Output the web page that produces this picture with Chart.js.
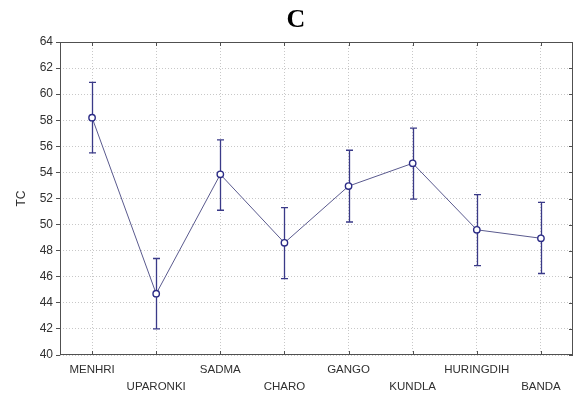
<!DOCTYPE html>
<html>
<head>
<meta charset="utf-8">
<script src="https://cdn.jsdelivr.net/npm/chart.js@4/dist/chart.umd.min.js"></script>
<style>
  html, body { margin: 0; padding: 0; background: #fff; }
  #wrap { width: 581px; height: 394px; }
</style>
</head>
<body>
<div id="wrap"><canvas id="c" width="581" height="394"></canvas></div>
<script>
const categories = ['MENHRI', 'UPARONKI', 'SADMA', 'CHARO', 'GANGO', 'KUNDLA', 'HURINGDIH', 'BANDA'];
const means = [58.2, 44.7, 53.85, 48.6, 52.95, 54.7, 49.6, 48.95];
const lower = [55.5, 42.0, 51.1, 45.85, 50.2, 51.95, 46.85, 46.25];
const upper = [60.9, 47.4, 56.5, 51.3, 55.7, 57.4, 52.3, 51.7];
const yTicks = [40, 42, 44, 46, 48, 50, 52, 54, 56, 58, 60, 62, 64];
const titleText = 'C';
const yTitle = 'TC';

const AXIS = '#505050';
const GRID = '#c8c8c8';
const NAVY = '#2c2c86';

const errorBars = {
  id: 'errorBars',
  beforeDatasetsDraw(chart) {
    const {ctx, scales: {x, y}, chartArea} = chart;
    ctx.save();
    ctx.setLineDash([]);
    ctx.strokeStyle = AXIS;
    ctx.lineWidth = 1;
    ctx.strokeRect(Math.round(chartArea.left) + 0.5, Math.round(chartArea.top) + 0.5,
      Math.round(chartArea.right - chartArea.left) - 1, Math.round(chartArea.bottom - chartArea.top) - 1);
    ctx.beginPath();
    categories.forEach((c, i) => {
      const px = Math.round(x.getPixelForValue(i)) + 0.5;
      ctx.moveTo(px, chartArea.top); ctx.lineTo(px, chartArea.top + 4);
      ctx.moveTo(px, chartArea.bottom); ctx.lineTo(px, chartArea.bottom - 4);
    });
    yTicks.forEach(v => {
      const py = Math.round(y.getPixelForValue(v)) + 0.5;
      ctx.moveTo(chartArea.right, py); ctx.lineTo(chartArea.right - 4, py);
    });
    ctx.stroke();
    ctx.strokeStyle = '#3a3a88';
    ctx.lineWidth = 1.3;
    ctx.beginPath();
    categories.forEach((c, i) => {
      const px = Math.round(x.getPixelForValue(i)) + 0.5;
      const yl = y.getPixelForValue(lower[i]);
      const yh = y.getPixelForValue(upper[i]);
      ctx.moveTo(px, yl); ctx.lineTo(px, yh);
      ctx.moveTo(px - 3.5, yh); ctx.lineTo(px + 3.5, yh);
      ctx.moveTo(px - 3.5, yl); ctx.lineTo(px + 3.5, yl);
    });
    ctx.stroke();
    ctx.restore();
  }
};

new Chart(document.getElementById('c'), {
  type: 'line',
  data: {
    labels: categories,
    datasets: [{
      data: means,
      borderColor: '#5a5a8e',
      borderWidth: 1,
      pointRadius: 3.2,
      pointBackgroundColor: '#ffffff',
      pointBorderColor: NAVY,
      pointBorderWidth: 1.4,
      tension: 0
    }]
  },
  options: {
    responsive: false,
    animation: false,
    devicePixelRatio: 1,
    layout: { padding: { left: 19, right: 8, top: 0, bottom: 0 } },
    plugins: {
      legend: { display: false },
      tooltip: { enabled: false },
      title: {
        display: true,
        text: titleText,
        color: '#000',
        font: { family: '"Liberation Serif", "Times New Roman", serif', size: 26, weight: 'bold', lineHeight: 1.2 },
        padding: { top: 4.4, bottom: 6.4 }
      }
    },
    scales: {
      x: {
        type: 'category',
        offset: true,
        border: { display: false, dash: [1, 2] },
        grid: { color: GRID, lineWidth: 1, drawTicks: false, offset: false },
        ticks: {
          color: '#303030',
          padding: 6,
          autoSkip: false,
          maxRotation: 0,
          font: { family: '"Liberation Sans", Arial, sans-serif', size: 11.5, lineHeight: 1.48 },
          callback: (v, i) => (i % 2 === 0 ? [categories[i]] : ['', categories[i]])
        },
        afterFit: s => { s.height = 39; }
      },
      y: {
        min: 40, max: 64,
        border: { display: false, dash: [1, 2] },
        grid: { color: GRID, lineWidth: 1, drawTicks: true, tickLength: 4, tickColor: AXIS, tickBorderDash: [] },
        afterBuildTicks: s => { s.ticks = yTicks.map(v => ({ value: v })); },
        ticks: {
          color: '#303030',
          padding: 3,
          font: { family: '"Liberation Sans", Arial, sans-serif', size: 12 }
        },
        title: {
          display: true,
          text: yTitle,
          color: '#303030',
          font: { family: '"Liberation Sans", Arial, sans-serif', size: 12, lineHeight: 1.2 },
          padding: { top: -4.2, bottom: 0 }
        },
        afterFit: s => { s.width = 41; }
      }
    }
  },
  plugins: [errorBars]
});
</script>
</body>
</html>
